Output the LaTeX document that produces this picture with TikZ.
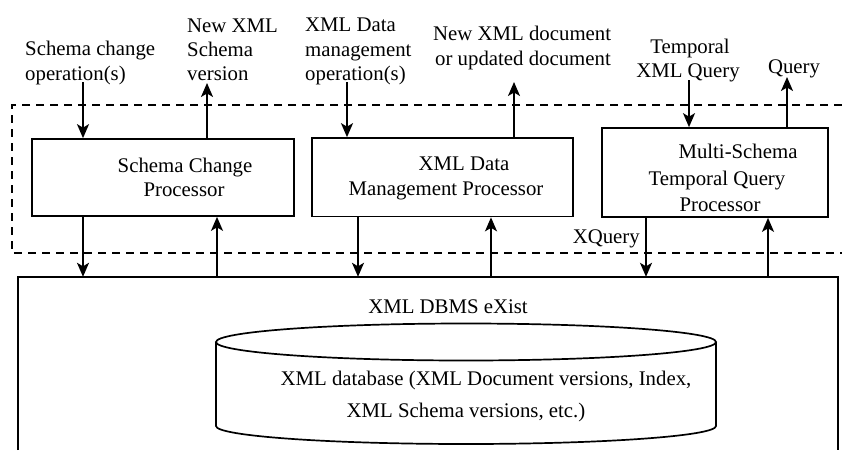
\documentclass[tikz,border=0pt]{standalone}
\usepackage{fontspec}
\setmainfont{Liberation Serif}
\usetikzlibrary{arrows.meta}
\begin{document}
\begin{tikzpicture}[x=1pt,y=-1pt,
  pbox/.style={draw, line width=1.7pt, inner sep=0pt},
  arr/.style={line width=1.7pt, -{Stealth[length=14pt,width=12pt,inset=3.5pt]}},
  txt/.style={inner sep=0pt, font=\fontsize{20.8}{24}\selectfont},
  lw/.style={txt, anchor=base west},
  lc/.style={txt, anchor=base},
  dashbox/.style={line width=1.8pt, dash pattern=on 8pt off 6pt}]
\useasboundingbox (0,0) rectangle (842,450);

% dashed system boundary
\draw[dashbox] (842,105) -- (12,105) -- (12,253) -- (842,253);

% processors
\node[pbox, minimum width=262pt, minimum height=77pt] (b1) at (163,177.5) {};
\node[pbox, minimum width=261pt, minimum height=78.5pt] (b2) at (442.5,177.25) {};
\node[pbox, minimum width=226pt, minimum height=89pt] (b3) at (715,172.5) {};

\node[lc] (b1l1) at (185,172) {Schema Change};
\node[lc] (b1l2) at (184,196) {Processor};
\node[lc] (b2l1) at (464,170) {XML Data};
\node[lc] (b2l2) at (446,195) {Management Processor};
\node[lc] (b3l1) at (738,158) {Multi-Schema};
\node[lc] (b3l2) at (717,185) {Temporal Query};
\node[lc] (b3l3) at (720,211) {Processor};

% DBMS box (open at the bottom)
\node[inner sep=0pt, minimum width=820pt, minimum height=173pt] (dbms) at (428,363.5) {};
\draw[line width=2.2pt] (dbms.south west) -- (dbms.north west) -- (dbms.north east) -- (dbms.south east);
\node[lc] (dbmsl) at (448,313) {XML DBMS eXist};

% database cylinder
\draw[line width=1.7pt] (216,342) -- (216,426) arc[start angle=180, end angle=0, x radius=250, y radius=18] -- (716,342);
\draw[line width=1.7pt] (466,342) ellipse [x radius=250, y radius=18.5];
\node[lc] (dbl1) at (486,385) {XML database (XML Document versions, Index,};
\node[lc] (dbl2) at (466,417) {XML Schema versions, etc.)};

% top labels
\node[lw] (s1a) at (25,55) {Schema change};
\node[lw] (s1b) at (25,80) {operation(s)};
\node[lw] (s2a) at (187,32) {New XML};
\node[lw] (s2b) at (187,56) {Schema};
\node[lw] (s2c) at (187,80) {version};
\node[lw] (s3a) at (305,31) {XML Data};
\node[lw] (s3b) at (305,56) {management};
\node[lw] (s3c) at (305,80) {operation(s)};
\node[lw] (s4a) at (433,40) {New XML document};
\node[lw] (s4b) at (435,65) {or updated document};
\node[lc] (s5a) at (690,53) {Temporal};
\node[lc] (s5b) at (688,77) {XML Query};
\node[lc] (s6) at (794,73) {Query};
\node[txt, anchor=base east] (xq) at (640,243) {XQuery};

% input / output arrows at the top
\coordinate (t1) at (83,82);
\coordinate (t2) at (207,83);
\coordinate (t3) at (347,82);
\coordinate (t4) at (514,82);
\coordinate (t5) at (689,80);
\coordinate (t6) at (787,77);
\draw[arr] (t1) -- (t1 |- b1.north);
\draw[arr] (t2 |- b1.north) -- (t2);
\draw[arr] (t3) -- (t3 |- b2.north);
\draw[arr] (t4 |- b2.north) -- (t4);
\draw[arr] (t5) -- (t5 |- b3.north);
\draw[arr] (t6 |- b3.north) -- (t6);

% arrows between processors and DBMS
\coordinate (d1) at (83,0);
\coordinate (u1) at (217,0);
\coordinate (d2) at (358,0);
\coordinate (u2) at (491,0);
\coordinate (d3) at (646,0);
\coordinate (u3) at (768,0);
\draw[arr] (d1 |- b1.south) -- (d1 |- dbms.north);
\draw[arr] (u1 |- dbms.north) -- (u1 |- b1.south);
\draw[arr] (d2 |- b2.south) -- (d2 |- dbms.north);
\draw[arr] (u2 |- dbms.north) -- (u2 |- b2.south);
\draw[arr] (d3 |- b3.south) -- (d3 |- dbms.north);
\draw[arr] (u3 |- dbms.north) -- (u3 |- b3.south);
\end{tikzpicture}
\end{document}
